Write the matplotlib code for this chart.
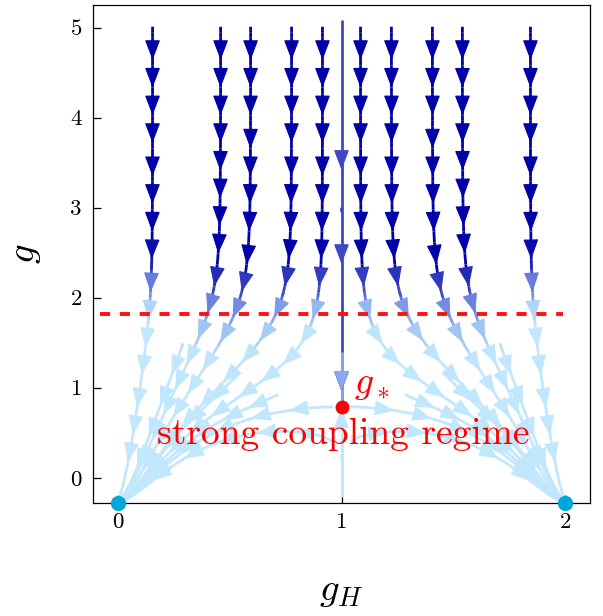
import numpy as np
import matplotlib
matplotlib.use("Agg")
import matplotlib.pyplot as plt
from matplotlib.colors import LinearSegmentedColormap, LogNorm
from matplotlib.transforms import Affine2D
from matplotlib.patches import FancyArrowPatch

plt.rcParams['mathtext.fontset'] = 'cm'
plt.rcParams['font.family'] = ['cmr10', 'DejaVu Serif']
plt.rcParams['axes.formatter.use_mathtext'] = True

# ---------------- data ----------------
x_range = (-0.11, 2.11)
y_range = (-0.28, 5.25)
xticks = [0, 1, 2]
yticks = [0, 1, 2, 3, 4, 5]

node_gH = [0.0, 2.0]          # IR fixed points (cyan dots)
node_g = -0.28
gstar_gH = 1.0                # strong coupling fixed point g_*
gstar_g = 0.79
dash_g = 1.82                 # red dashed line
dash_x = [-0.08, 1.99]

# stream seeds (left half; the right half is the mirror image)
top_seed_gH = [0.156, 0.46, 0.594, 0.777, 0.915]
top_seed_g = 5.07
low_seed_gH = [0.30, 0.56, 0.74]
low_seed_g = [1.55, 1.20, 0.95]
arc_seed_gH = [0.985, 0.975]
arc_seed_g = [0.79, 0.36]

# central line pieces: start, end, colour, arrow positions (fraction)
ctr_start = [5.14, 1.46, -0.275]
ctr_end = [0.80, 0.80, 0.775]
ctr_color = ['#3f47c6', '#88a9ee', '#bfe6fb']
ctr_arrow_frac = [[0.377, 0.632, 0.956], [0.727], [0.95]]

# ---------------- flow field ----------------
c_sad = gstar_g - node_g
gH = np.linspace(x_range[0], x_range[1], 223)
g = np.linspace(y_range[0], y_range[1], 554)
GH, GG = np.meshgrid(gH, g)
u = GH - gstar_gH
v = GG - node_g
s = np.clip(1 - u**2, 0, None)
F = 0.1 + 1.4 * s**2
N = c_sad * s**4
H = 1 + (v / 2.3)**8
Gf = 1 - 0.8 * u**2
K = 1 - 0.7 * np.exp(-(u / 0.45)**2) / (1 + np.exp((v - c_sad) / 0.08))
du = u * (1 - u**2) * F
dv = -(v - N) * H * Gf * K
speed = np.hypot(du, dv)

cmap = LinearSegmentedColormap.from_list('flow', [
    (0.0, '#c0e7fc'), (0.12, '#bde4fb'), (0.30, '#92b5ef'),
    (0.60, '#4a55d0'), (0.85, '#1018ac'), (1.0, '#0000a8')])
norm = LogNorm(0.85, 7.5, clip=True)

fig = plt.figure(figsize=(6.03, 6.16), dpi=100)
ax = fig.add_axes([93 / 603, 1 - 503 / 616, 497 / 603, 498 / 616])
ax.set_xlim(*x_range)
ax.set_ylim(*y_range)

# scale gH so path length is uniform in pixels (arrow spacing)
sx = (497 / (x_range[1] - x_range[0])) / (498 / (y_range[1] - y_range[0]))
px_per_unit = 498 / (y_range[1] - y_range[0])
tr = Affine2D().scale(1 / sx, 1) + ax.transData
Xs = gH * sx
Us = du * sx
yext = y_range[1] - y_range[0]

LW = 2.0
ASTYLE = '-|>,head_length=0.55,head_width=0.21'
AMS = 23


def stream(seed_x, seed_y, spacing=30, color=None, fracs=None,
           start_px=0, end_px=45, maxlength=4.0, minlength=0.1, z=2):
    seed = (seed_x * sx, seed_y)
    kw = dict(start_points=[seed], transform=tr, zorder=z,
              broken_streamlines=False, integration_direction='forward',
              density=3, linewidth=LW, arrowstyle='-', arrowsize=0.01,
              maxlength=maxlength, minlength=minlength)
    if color is None:
        sp = ax.streamplot(Xs, g, Us, dv, color=speed, cmap=cmap,
                           norm=norm, **kw)
        segs = sp.lines.get_segments()
        if len(segs) == 0:
            return
        pts = np.array([segs[0][0]] + [sg[1] for sg in segs])
        cols = [cmap(norm(val)) for val in np.asarray(sp.lines.get_array())]
    else:
        sp = ax.streamplot(Xs, g, Us, dv, color=color, **kw)
        segs = sp.lines.get_segments()
        if len(segs) == 0:
            return
        pts = np.asarray(segs[0])
        cols = [color] * (len(pts) - 1)
    d = np.hypot(*np.diff(pts, axis=0).T)
    cum = np.concatenate([[0.0], np.cumsum(d)])
    L = cum[-1]
    if fracs is None:
        a0 = start_px / px_per_unit
        usable = L - end_px / px_per_unit - a0
        n = int(round(usable * px_per_unit / spacing))
        targets = [a0 + usable * k / n for k in range(1, n + 1)] if n > 0 else []
    else:
        targets = [L * f for f in fracs]
    for target in targets:
        i = int(np.clip(np.searchsorted(cum, target), 1, len(pts) - 1))
        j = int(np.clip(np.searchsorted(cum, target - 0.06), 0, i - 1))
        ax.add_patch(FancyArrowPatch(pts[j], pts[i], transform=tr,
                                     arrowstyle=ASTYLE, mutation_scale=AMS,
                                     color=cols[i - 1], linewidth=0.8,
                                     shrinkA=0, shrinkB=0, zorder=z + 0.5))


mirror = lambda xs: [2 * gstar_gH - x for x in xs]

for xs in (top_seed_gH, mirror(top_seed_gH)):
    for x0 in xs:
        stream(x0, top_seed_g, spacing=29)
for xs in (low_seed_gH, mirror(low_seed_gH)):
    for x0, y0 in zip(xs, low_seed_g):
        stream(x0, y0, spacing=32)
for xs in (arc_seed_gH, mirror(arc_seed_gH)):
    for x0, y0 in zip(xs, arc_seed_g):
        stream(x0, y0, spacing=36)

for k, (y0, y1, colr, fr) in enumerate(zip(ctr_start, ctr_end, ctr_color,
                                           ctr_arrow_frac)):
    stream(gstar_gH, y0, color=colr, fracs=fr, z=2 + 0.1 * k,
           maxlength=abs(y0 - y1) / yext, minlength=0.0)

ax.set_xlim(*x_range)
ax.set_ylim(*y_range)

ax.plot(dash_x, [dash_g, dash_g], color='#ff1010', lw=2.8,
        dashes=(2.6, 2.5), zorder=3)
ax.plot(node_gH, [node_g] * len(node_gH), 'o', color='#00a8d8', ms=11,
        mec='none', clip_on=False, zorder=6)
ax.plot([gstar_gH], [gstar_g], 'o', color='red', ms=10, mec='none',
        zorder=6)
ax.text(gstar_gH + 0.055, gstar_g + 0.15, r'$g_*$', color='red',
        fontsize=27, ha='left', va='baseline', zorder=7)
ax.text(gstar_gH + 0.009, 0.37, 'strong coupling regime', color='red',
        fontsize=27, ha='center', va='baseline', family='cmr10', zorder=7)

ax.set_xticks(xticks, [str(t) for t in xticks])
ax.set_yticks(yticks, [str(t) for t in yticks])
ax.tick_params(direction='in', length=6, width=0.9, labelsize=16.5,
               color='black')
ax.tick_params(axis='y', pad=8)
ax.tick_params(axis='x', pad=7)
for sp_ in ax.spines.values():
    sp_.set_linewidth(0.9)

ax.set_xlabel(r'$g_H$', fontsize=28)
ax.set_ylabel(r'$g$', fontsize=28)
ax.xaxis.set_label_coords(0.5, (503 - 591) / 498)
ax.yaxis.set_label_coords((25 - 93) / 497, 0.5)
ax.xaxis.label.set_va('center')
ax.yaxis.label.set_va('center')
ax.yaxis.label.set_ha('center')

fig.savefig('out.png', dpi=100)
